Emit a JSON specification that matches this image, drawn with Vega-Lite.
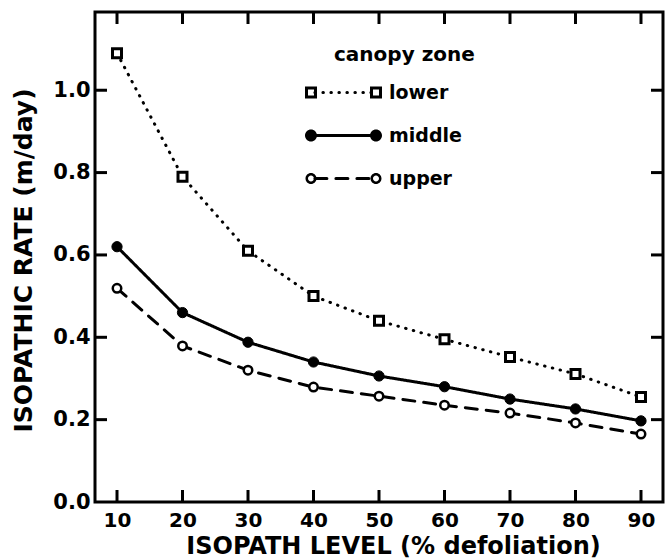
{
  "$schema": "https://vega.github.io/schema/vega-lite/v6.json",
  "width": 568,
  "height": 490,
  "autosize": {"type": "none"},
  "padding": {"left": 95, "top": 12, "right": 5, "bottom": 56},
  "config": {
    "view": {"stroke": "black", "strokeWidth": 3},
    "font": "DejaVu Sans",
    "axis": {
      "grid": false,
      "domain": false,
      "ticks": false,
      "labelColor": "black",
      "labelFont": "DejaVu Sans",
      "labelFontWeight": "bold",
      "labelFontSize": 21,
      "titleColor": "black",
      "titleFont": "DejaVu Sans",
      "titleFontWeight": "bold",
      "titleFontSize": 25
    },
    "legend": {
      "orient": "none",
      "legendX": 239,
      "legendY": 33,
      "padding": 0,
      "titleFont": "DejaVu Sans",
      "titleFontSize": 20,
      "titleFontWeight": "bold",
      "titleColor": "black",
      "titlePadding": 18,
      "labelFont": "DejaVu Sans",
      "labelFontSize": 19,
      "labelFontWeight": "bold",
      "labelColor": "black",
      "labelOffset": 36,
      "rowPadding": 23,
      "symbolSize": 169
    }
  },
  "data": {
    "values": [
      {"zone": "lower", "level": 10, "rate": 1.09},
      {"zone": "lower", "level": 20, "rate": 0.79},
      {"zone": "lower", "level": 30, "rate": 0.61},
      {"zone": "lower", "level": 40, "rate": 0.50},
      {"zone": "lower", "level": 50, "rate": 0.44},
      {"zone": "lower", "level": 60, "rate": 0.395},
      {"zone": "lower", "level": 70, "rate": 0.352},
      {"zone": "lower", "level": 80, "rate": 0.311},
      {"zone": "lower", "level": 90, "rate": 0.255},
      {"zone": "middle", "level": 10, "rate": 0.62},
      {"zone": "middle", "level": 20, "rate": 0.46},
      {"zone": "middle", "level": 30, "rate": 0.388},
      {"zone": "middle", "level": 40, "rate": 0.34},
      {"zone": "middle", "level": 50, "rate": 0.306},
      {"zone": "middle", "level": 60, "rate": 0.28},
      {"zone": "middle", "level": 70, "rate": 0.25},
      {"zone": "middle", "level": 80, "rate": 0.226},
      {"zone": "middle", "level": 90, "rate": 0.197},
      {"zone": "upper", "level": 10, "rate": 0.519},
      {"zone": "upper", "level": 20, "rate": 0.379},
      {"zone": "upper", "level": 30, "rate": 0.32},
      {"zone": "upper", "level": 40, "rate": 0.279},
      {"zone": "upper", "level": 50, "rate": 0.257},
      {"zone": "upper", "level": 60, "rate": 0.235},
      {"zone": "upper", "level": 70, "rate": 0.216},
      {"zone": "upper", "level": 80, "rate": 0.192},
      {"zone": "upper", "level": 90, "rate": 0.165}
    ]
  },
  "layer": [
    {
      "mark": {"type": "line", "color": "black", "strokeWidth": 3, "strokeCap": "round"},
      "encoding": {
        "x": {
          "field": "level", "type": "quantitative",
          "scale": {"domain": [6.64, 93.36], "nice": false, "zero": false},
          "axis": {
            "orient": "bottom",
            "values": [10, 20, 30, 40, 50, 60, 70, 80, 90],
            "labelPadding": 8,
            "labelFontSize": 20,
            "labelFlush": false,
            "labelOverlap": false,
            "title": "ISOPATH LEVEL (% defoliation)",
            "titleFontSize": 24,
            "titleX": 298,
            "titleY": 51,
            "titleBaseline": "alphabetic"
          }
        },
        "y": {
          "field": "rate", "type": "quantitative",
          "scale": {"domain": [0, 1.19], "nice": false, "zero": false},
          "axis": {
            "orient": "left",
            "values": [0, 0.2, 0.4, 0.6, 0.8, 1.0],
            "format": ".1f",
            "labelPadding": 5,
            "labelFlush": false,
            "labelOverlap": false,
            "title": "ISOPATHIC RATE (m/day)",
            "titleX": -64,
            "titleY": 248,
            "titleBaseline": "alphabetic"
          }
        },
        "strokeDash": {
          "field": "zone", "type": "nominal",
          "scale": {"range": [[0.5, 7.5], [1, 0], [12, 9]]},
          "legend": {
            "title": "canopy zone",
            "symbolType": "M-4.4,0H4.4",
            "symbolStrokeWidth": 3,
            "symbolStrokeColor": "black",
            "encode": {"symbols": {"update": {"strokeCap": {"value": "round"}}}}
          }
        }
      }
    },
    {
      "data": {"values": [
        {"level": 10}, {"level": 20}, {"level": 30}, {"level": 40}, {"level": 50},
        {"level": 60}, {"level": 70}, {"level": 80}, {"level": 90}
      ]},
      "mark": {"type": "point", "shape": "M-0.125,0H0.125V-1H-0.125Z", "size": 576, "filled": true, "color": "black", "strokeWidth": 0, "opacity": 1},
      "encoding": {
        "x": {"field": "level", "type": "quantitative", "axis": null},
        "y": {"datum": 0, "type": "quantitative", "axis": null}
      }
    },
    {
      "data": {"values": [
        {"level": 10}, {"level": 20}, {"level": 30}, {"level": 40}, {"level": 50},
        {"level": 60}, {"level": 70}, {"level": 80}, {"level": 90}
      ]},
      "mark": {"type": "point", "shape": "M-0.125,0H0.125V1H-0.125Z", "size": 576, "filled": true, "color": "black", "strokeWidth": 0, "opacity": 1},
      "encoding": {
        "x": {"field": "level", "type": "quantitative", "axis": null},
        "y": {"datum": 1.19, "type": "quantitative", "axis": null}
      }
    },
    {
      "data": {"values": [
        {"rate": 0.2}, {"rate": 0.4}, {"rate": 0.6}, {"rate": 0.8}, {"rate": 1.0}
      ]},
      "mark": {"type": "point", "shape": "M0,-0.125V0.125H1V-0.125Z", "size": 576, "filled": true, "color": "black", "strokeWidth": 0, "opacity": 1},
      "encoding": {
        "y": {"field": "rate", "type": "quantitative", "axis": null},
        "x": {"datum": 6.64, "type": "quantitative", "axis": null}
      }
    },
    {
      "data": {"values": [
        {"rate": 0.2}, {"rate": 0.4}, {"rate": 0.6}, {"rate": 0.8}, {"rate": 1.0}
      ]},
      "mark": {"type": "point", "shape": "M0,-0.125V0.125H-1V-0.125Z", "size": 576, "filled": true, "color": "black", "strokeWidth": 0, "opacity": 1},
      "encoding": {
        "y": {"field": "rate", "type": "quantitative", "axis": null},
        "x": {"datum": 93.36, "type": "quantitative", "axis": null}
      }
    },
    {
      "transform": [{"filter": "datum.zone === 'lower'"}],
      "mark": {"type": "point", "shape": "square", "size": 81, "filled": true, "fill": "white", "stroke": "black", "strokeWidth": 3, "opacity": 1},
      "encoding": {
        "x": {"field": "level", "type": "quantitative", "axis": null},
        "y": {"field": "rate", "type": "quantitative", "axis": null}
      }
    },
    {
      "transform": [{"filter": "datum.zone === 'middle'"}],
      "mark": {"type": "point", "shape": "circle", "size": 105, "filled": true, "fill": "black", "stroke": "black", "strokeWidth": 1, "opacity": 1},
      "encoding": {
        "x": {"field": "level", "type": "quantitative", "axis": null},
        "y": {"field": "rate", "type": "quantitative", "axis": null}
      }
    },
    {
      "transform": [{"filter": "datum.zone === 'upper'"}],
      "mark": {"type": "point", "shape": "circle", "size": 72, "filled": true, "fill": "white", "stroke": "black", "strokeWidth": 2.5, "opacity": 1},
      "encoding": {
        "x": {"field": "level", "type": "quantitative", "axis": null},
        "y": {"field": "rate", "type": "quantitative", "axis": null}
      }
    },
    {
      "transform": [{"filter": "false"}],
      "mark": {"type": "point", "filled": true, "color": "black", "opacity": 1},
      "encoding": {
        "shape": {
          "field": "zone", "type": "nominal",
          "scale": {
            "domain": ["lower", "middle", "upper"],
            "range": [
              "M-5.923,-0.923H-4.077V0.923H-5.923Z M-5.46,-0.46V0.46H-4.54V-0.46Z M4.077,-0.923H5.923V0.923H4.077Z M4.54,-0.46V0.46H5.46V-0.46Z",
              "M-5.923,0C-5.923,-0.51,-5.51,-0.923,-5,-0.923C-4.49,-0.923,-4.077,-0.51,-4.077,0C-4.077,0.51,-4.49,0.923,-5,0.923C-5.51,0.923,-5.923,0.51,-5.923,0Z M4.077,0C4.077,-0.51,4.49,-0.923,5,-0.923C5.51,-0.923,5.923,-0.51,5.923,0C5.923,0.51,5.51,0.923,5,0.923C4.49,0.923,4.077,0.51,4.077,0Z",
              "M-5.846,0C-5.846,-0.467,-5.467,-0.846,-5,-0.846C-4.533,-0.846,-4.154,-0.467,-4.154,0C-4.154,0.467,-4.533,0.846,-5,0.846C-5.467,0.846,-5.846,0.467,-5.846,0Z M-5.46,0C-5.46,0.254,-5.254,0.46,-5,0.46C-4.746,0.46,-4.54,0.254,-4.54,0C-4.54,-0.254,-4.746,-0.46,-5,-0.46C-5.254,-0.46,-5.46,-0.254,-5.46,0Z M4.154,0C4.154,-0.467,4.533,-0.846,5,-0.846C5.467,-0.846,5.846,-0.467,5.846,0C5.846,0.467,5.467,0.846,5,0.846C4.533,0.846,4.154,0.467,4.154,0Z M4.54,0C4.54,0.254,4.746,0.46,5,0.46C5.254,0.46,5.46,0.254,5.46,0C5.46,-0.254,5.254,-0.46,5,-0.46C4.746,-0.46,4.54,-0.254,4.54,0Z"
            ]
          },
          "legend": {
            "title": "canopy zone",
            "titleOpacity": 0,
            "labelOpacity": 0,
            "symbolFillColor": "black",
            "symbolStrokeWidth": 0,
            "symbolOpacity": 1
          }
        }
      }
    }
  ],
  "resolve": {"axis": {"x": "independent", "y": "independent"}}
}
